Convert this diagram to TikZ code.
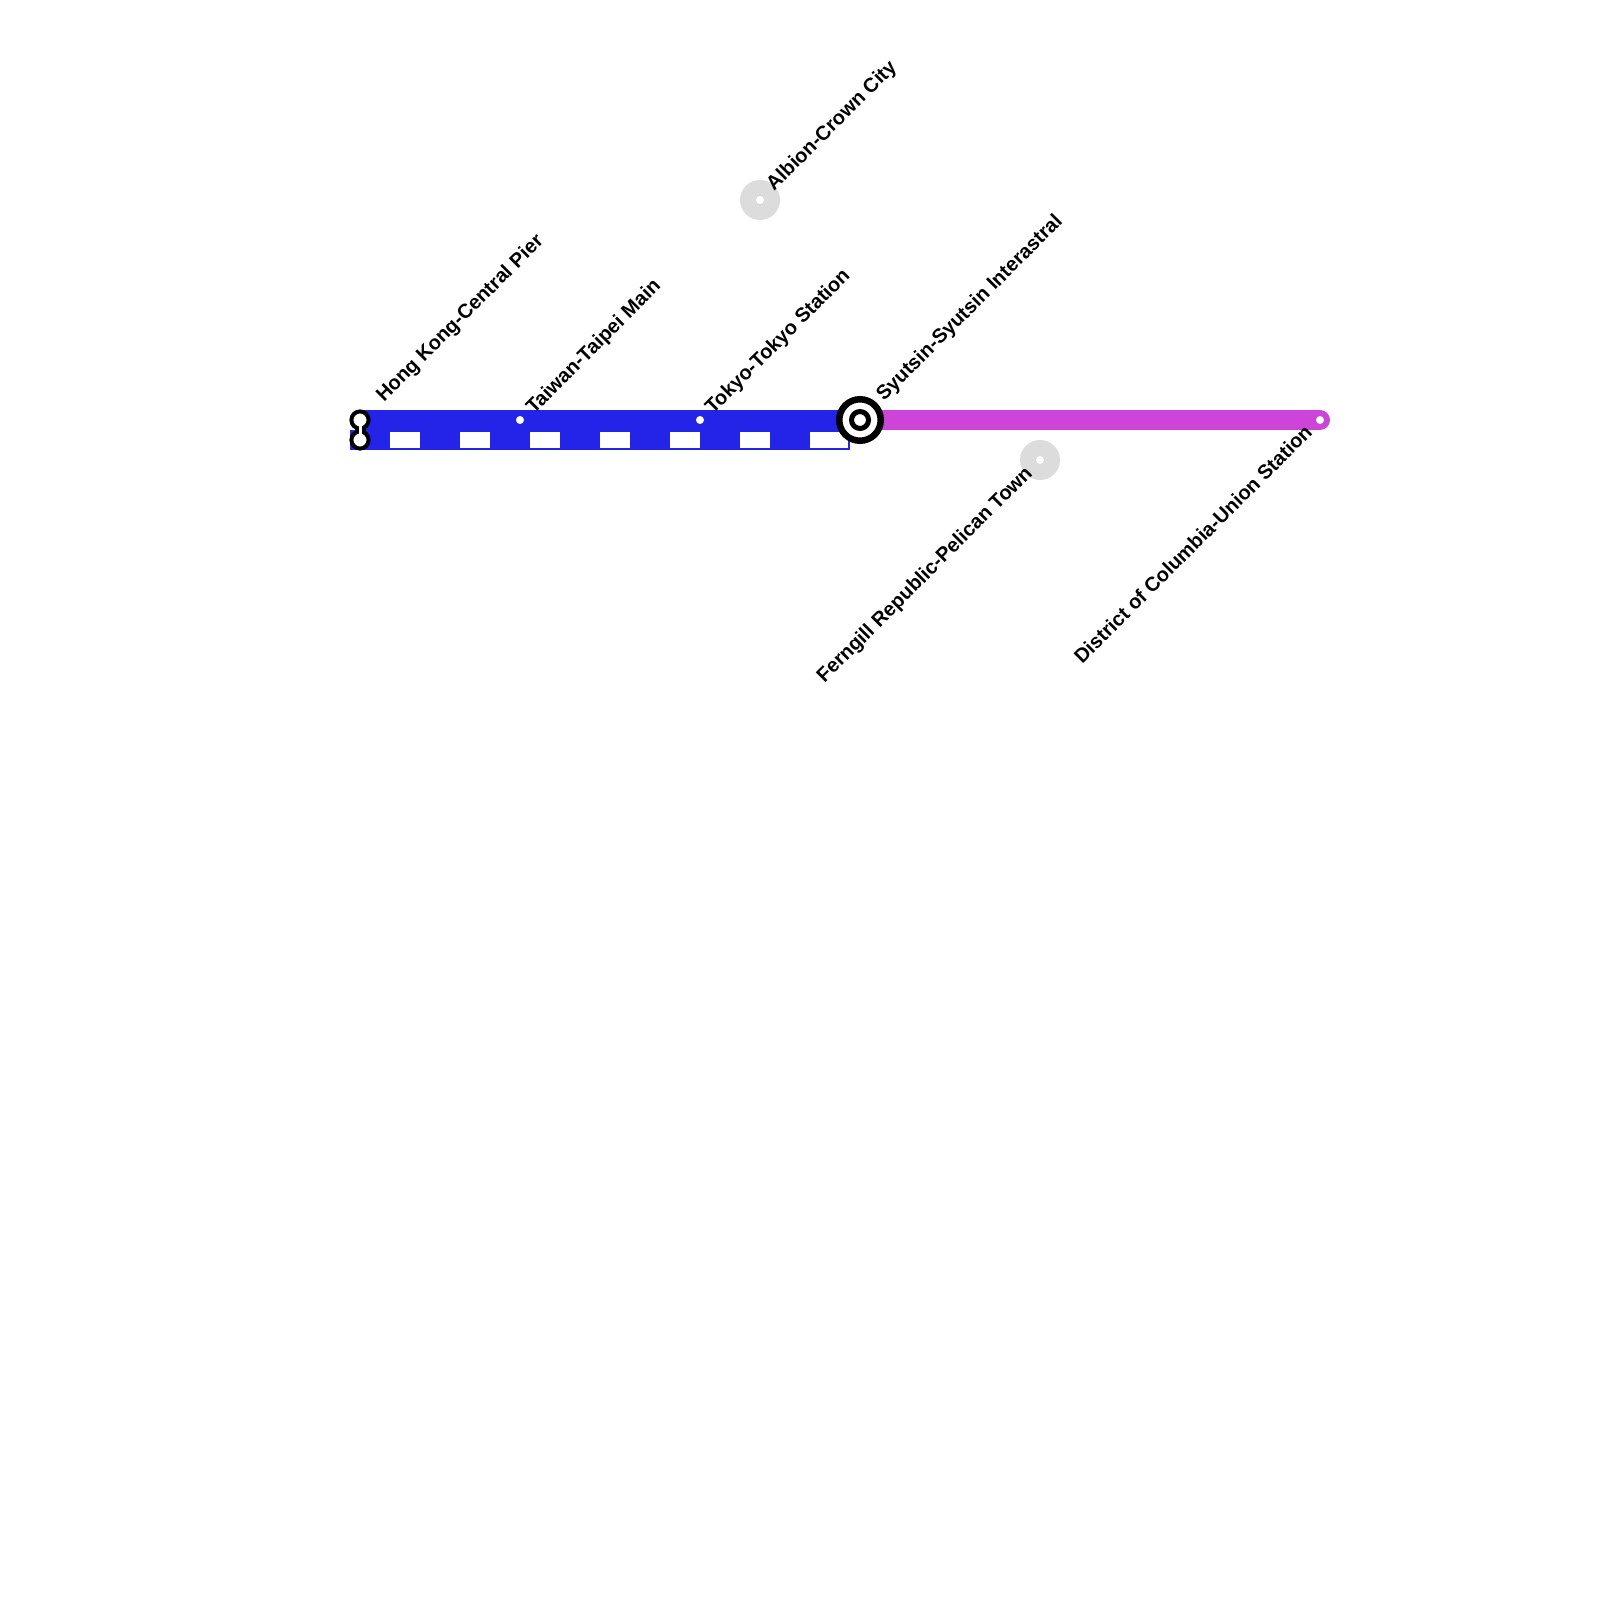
\documentclass[tikz,border=0pt]{standalone}
\usepackage{fontspec}
\setmainfont{Liberation Sans}
\definecolor{lineblue}{HTML}{2424E8}
\definecolor{linepurple}{HTML}{CC44D8}
\definecolor{halogray}{HTML}{DCDCDC}
\tikzset{
  linethick/.style={line width=20pt},
  stationdot/.style={circle, fill=white, inner sep=0pt, minimum size=8pt},
  halodot/.style={circle, fill=halogray, inner sep=0pt, minimum size=40pt},
  labelup/.style={rotate=45, anchor=south west, inner sep=0pt, font=\fontsize{20}{24}\bfseries},
  labeldown/.style={rotate=45, anchor=north east, inner sep=0pt, font=\fontsize{20}{24}\bfseries},
  ringdot/.style={circle, draw=black, fill=white, line width=4pt, inner sep=0pt, minimum size=17.2pt}
}
\begin{document}
\begin{tikzpicture}[x=1pt,y=-1pt]
\useasboundingbox (0,0) rectangle (1600,1600);
\coordinate (bluestart) at (350,440);
\coordinate (blueend) at (850,440);
\coordinate (dashstart) at (390,440);
\coordinate (dashend) at (848,440);
\node [stationdot] (HK) at (360,420) {};
\node [stationdot] (HKlow) at (360,440) {};
\node [stationdot] (TW) at (520,420) {};
\node [stationdot] (TK) at (700,420) {};
\node [stationdot] (SY) at (860,420) {};
\node [stationdot] (DC) at (1320,420) {};
\draw[lineblue, linethick] (HK.center) to (SY.center);
\draw[lineblue, linethick] (bluestart) to (blueend);
\draw[white, line width=15.5pt, dash pattern=on 30pt off 40pt on 30pt off 40pt on 30pt off 40pt on 30pt off 40pt on 30pt off 40pt on 30pt off 40pt on 40pt] (dashstart) to (dashend);
\draw[linepurple, linethick, line cap=round] (SY.center) to (DC.center);
\node [stationdot] at (TW) {};
\node [stationdot] at (TK) {};
\node [stationdot] at (DC) {};
% interchange at the left end
\draw[black, line width=11pt] (HK.center) to (HKlow.center);
\node [ringdot] at (HK) {};
\node [ringdot] at (HKlow) {};
\draw[white, line width=3pt] (HK.center) to (HKlow.center);
% big interchange
\node [circle, draw=black, fill=white, line width=6.5pt, inner sep=0pt, minimum size=41.5pt] at (SY) {};
\node [circle, draw=black, fill=white, line width=5pt, inner sep=0pt, minimum size=17pt] at (SY) {};
% stations off the line
\node [halodot] (AC) at (760,200) {};
\node [stationdot] at (AC) {};
\node [halodot] (FR) at (1040,460) {};
\node [stationdot] at (FR) {};
\node [labelup] (HKtext) at (387,406) {Hong Kong-Central Pier};
\node [labelup] (TWtext) at (537,418) {Taiwan-Taipei Main};
\node [labelup] (TKtext) at (716,418) {Tokyo-Tokyo Station};
\node [labelup] (SYtext) at (887,405) {Syutsin-Syutsin Interastral};
\node [labelup] (ACtext) at (777,195) {Albion-Crown City};
\node [labeldown] (FRtext) at (1023,464) {Ferngill Republic-Pelican Town};
\node [labeldown] (DCtext) at (1303,423) {District of Columbia-Union Station};
\end{tikzpicture}
\end{document}
